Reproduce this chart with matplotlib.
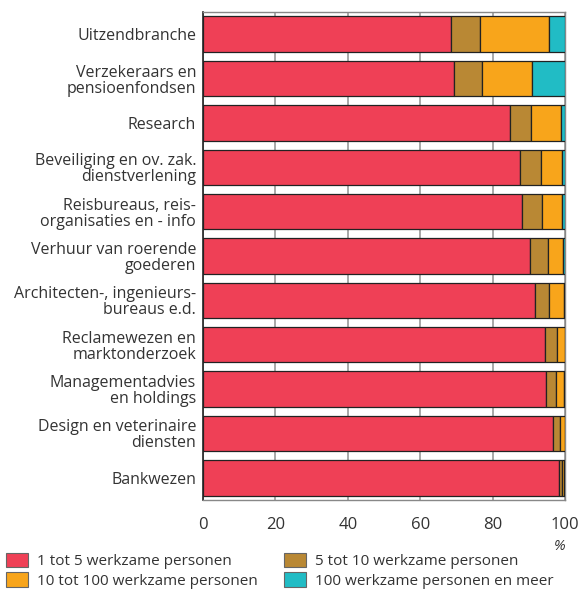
import numpy as np
import matplotlib.pyplot as plt
from matplotlib.patches import Patch

plt.rcParams['font.family'] = ['Open Sans', 'DejaVu Sans']

# branches, top to bottom
branches = [
    "Uitzendbranche",
    "Verzekeraars en\npensioenfondsen",
    "Research",
    "Beveiliging en ov. zak.\ndienstverlening",
    "Reisbureaus, reis-\norganisaties en - info",
    "Verhuur van roerende\ngoederen",
    "Architecten-, ingenieurs-\nbureaus e.d.",
    "Reclamewezen en\nmarktonderzoek",
    "Managementadvies\nen holdings",
    "Design en veterinaire\ndiensten",
    "Bankwezen",
]

# share of firms (%) per size class
klein = [68.6, 69.2, 84.8, 87.6, 88.1, 90.3, 91.6, 94.4, 94.7, 96.7, 98.4]
k5_10 = [7.9, 7.9, 5.8, 5.8, 5.6, 5.0, 4.1, 3.3, 2.8, 1.9, 0.8]
k10_100 = [19.2, 13.8, 8.2, 5.9, 5.6, 4.2, 4.0, 2.2, 2.1, 1.3, 0.5]
groot = [4.3, 9.1, 1.2, 0.7, 0.7, 0.5, 0.3, 0.1, 0.4, 0.1, 0.3]

series = [klein, k5_10, k10_100, groot]
labels = ["1 tot 5 werkzame personen", "5 tot 10 werkzame personen",
          "10 tot 100 werkzame personen", "100 werkzame personen en meer"]
colors = ["#EF4056", "#B98834", "#F8A51B", "#21BCC5"]

fig = plt.figure(figsize=(5.81, 5.92), dpi=100)
ax = fig.add_axes([203/581, 1-500/592, 362/581, 488/592])

y = np.arange(len(branches))
left = np.zeros(len(branches))
for vals, col in zip(series, colors):
    ax.barh(y, vals, left=left, height=0.8, color=col, edgecolor="#222222",
            linewidth=0.9, zorder=3)
    left += np.array(vals)

ax.set_ylim(len(branches) - 0.5, -0.5)
ax.set_xlim(0, 100)
ax.set_xticks([0, 20, 40, 60, 80, 100])
ax.set_yticks(y)
ax.set_yticklabels(branches, fontsize=11.5, color="#333333", linespacing=1.0)
ax.tick_params(axis="y", length=0, pad=5)
ax.tick_params(axis="x", length=0, pad=12, labelsize=12, labelcolor="#333333")
ax.grid(axis="x", color="#999999", linewidth=1.2, zorder=0)
ax.set_axisbelow(True)
ax.spines["left"].set_color("#222222")
ax.spines["left"].set_linewidth(1.2)
for s in ["top", "right", "bottom"]:
    ax.spines[s].set_color("#888888")
    ax.spines[s].set_linewidth(1.0)

fig.text(560/581, 1-546/592, "%", fontsize=10.5, color="#333333",
         ha="center", va="center", style="italic")

handles = [Patch(facecolor=c, edgecolor="#666666", linewidth=0.8) for c in colors]
order = [0, 2, 1, 3]
fig.legend([handles[i] for i in order], [labels[i] for i in order],
           ncol=2, loc="lower left", bbox_to_anchor=(-0.005, -0.01),
           frameon=False, fontsize=11, handlelength=1.45, handleheight=1.1,
           handletextpad=0.55, columnspacing=1.75, labelspacing=0.2,
           labelcolor="#333333", borderaxespad=0.2)

fig.savefig("out.png", dpi=100)
